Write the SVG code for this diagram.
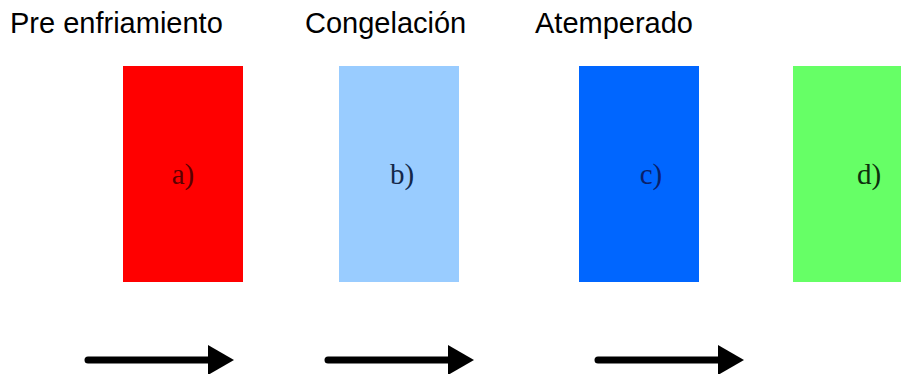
<svg xmlns="http://www.w3.org/2000/svg" width="901" height="374" viewBox="0 0 901 374">
<style>
.title{font-family:"Liberation Sans",Arial,sans-serif;font-size:29px;fill:#000}
.lbl{font-family:"Liberation Serif","Times New Roman",serif;font-size:29px;text-anchor:middle}
.shaft{stroke:#000;stroke-width:7;stroke-linecap:round;fill:none}
</style>
<defs>
<marker id="ah" viewBox="0 0 10 10" refX="0" refY="5" markerWidth="26" markerHeight="30" markerUnits="userSpaceOnUse" orient="auto" preserveAspectRatio="none">
<path d="M0,0 L10,5 L0,10 Z" fill="#000"/>
</marker>
</defs>
<rect width="901" height="374" fill="#fff"/>
<text class="title" x="10" y="33">Pre enfriamiento</text>
<text class="title" x="305" y="33">Congelación</text>
<text class="title" x="535" y="33">Atemperado</text>
<g id="node-a"><rect x="123" y="66" width="120" height="216" fill="#ff0000"/><text class="lbl" x="183" y="184" fill="#5a0000">a)</text></g>
<g id="node-b"><rect x="339" y="66" width="120" height="216" fill="#99ccff"/><text class="lbl" x="402" y="184" fill="#14284a">b)</text></g>
<g id="node-c"><rect x="579" y="66" width="120" height="216" fill="#0066ff"/><text class="lbl" x="651" y="184" fill="#0a1f6a">c)</text></g>
<g id="node-d"><rect x="793" y="66" width="120" height="216" fill="#66ff66"/><text class="lbl" x="869" y="184" fill="#0d300d">d)</text></g>
<g id="connectors">
<line class="shaft" x1="88" y1="360" x2="208" y2="360" marker-end="url(#ah)"/>
<line class="shaft" x1="328" y1="360" x2="448" y2="360" marker-end="url(#ah)"/>
<line class="shaft" x1="598" y1="360" x2="718" y2="360" marker-end="url(#ah)"/>
</g>
</svg>
